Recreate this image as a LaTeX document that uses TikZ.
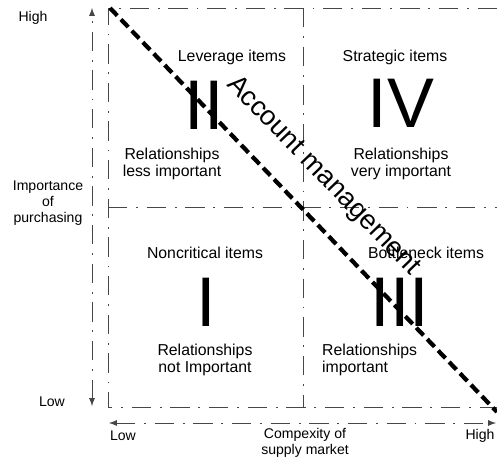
\documentclass[tikz,border=0pt]{standalone}
\usepackage{fontspec}
\setmainfont{Liberation Sans}
\usetikzlibrary{arrows}
\definecolor{L}{RGB}{70, 70, 70}

\tikzset{
  marco/.style={line width=0.55pt, color=L, dash pattern=on 11pt off 5pt on 1pt off 5pt},
  eje/.style={marco, latex-latex},
  etiqueta/.style={font=\fontsize{8}{9}\selectfont, align=center},
  texto/.style={font=\fontsize{9}{9.5}\selectfont, align=center},
  romano/.style={font=\fontsize{40}{40}\selectfont, inner sep=0pt},
  diagonal/.style={line width=2.4pt, dash pattern=on 6pt off 3pt}
}

\begin{document}
\begin{tikzpicture}[x=0.02cm, y=-0.02cm]
   	\useasboundingbox (0,0) rectangle (497,460);

	%Esquinas del cuadro
   	\coordinate (ns) at (108,8);
   	\coordinate (nm) at (303,8);
   	\coordinate (ne) at (497,8);
   	\coordinate (os) at (108,207);
   	\coordinate (om) at (303,207);
   	\coordinate (oe) at (497,207);
   	\coordinate (ss) at (108,407);
   	\coordinate (sm) at (303,407);
   	\coordinate (se) at (497,407);

	%Cuadro y divisiones
   	\draw[marco] (ne) -- (ns) -- (ss) -- (se);
   	\draw[marco] (nm) -- (sm);
   	\draw[marco] (os) -- (oe);

	%Ejes
   	\coordinate (ya) at (92,8);
   	\coordinate (yb) at (92,406);
   	\coordinate (xa) at (109,423);
   	\coordinate (xb) at (496,423);
   	\draw[eje] (yb) -- (ya);
   	\draw[eje] (xa) -- (xb);

	%Etiquetas de los ejes
   	\node[etiqueta] (yalto) at (33,18) {High};
   	\node[etiqueta] (ybajo) at (52,402) {Low};
   	\node[etiqueta] (ytitulo) at (48,203) {Importance\\of\\purchasing};
   	\node[etiqueta] (xbajo) at (123,436) {Low};
   	\node[etiqueta] (xalto) at (480,436) {High};
   	\node[etiqueta] (xtitulo) at (305,443) {Compexity of\\supply market};

	%Cuadrante II
   	\node[texto] (c2) at (232,57) {Leverage items};
   	\node[romano] (r2) at (204,105) {II};
   	\node[texto] (d2) at (172,164) {Relationships\\less important};

	%Cuadrante IV
   	\node[texto] (c4) at (395,57) {Strategic items};
   	\node[romano] (r4) at (401,103) {IV};
   	\node[texto] (d4) at (401,164) {Relationships\\very important};

	%Cuadrante I
   	\node[texto] (c1) at (205,253) {Noncritical items};
   	\node[romano] (r1) at (206,302) {I};
   	\node[texto] (d1) at (205,360) {Relationships\\not Important};

	%Cuadrante III
   	\node[texto] (c3) at (426,253) {Bottleneck items};
   	\node[romano] (r3) at (400,302) {III};
   	\node[texto, align=left, anchor=west] (d3) at (316,360) {Relationships\\important};

	%Diagonal
   	\coordinate (da) at (110,8);
   	\coordinate (db) at (497,412);
   	\draw[diagonal] (da) -- (db);
   	\node[font=\fontsize{15.5}{15.5}\selectfont, rotate=-46] (cuenta) at (323,176) {Account management};
\end{tikzpicture}
\end{document}
